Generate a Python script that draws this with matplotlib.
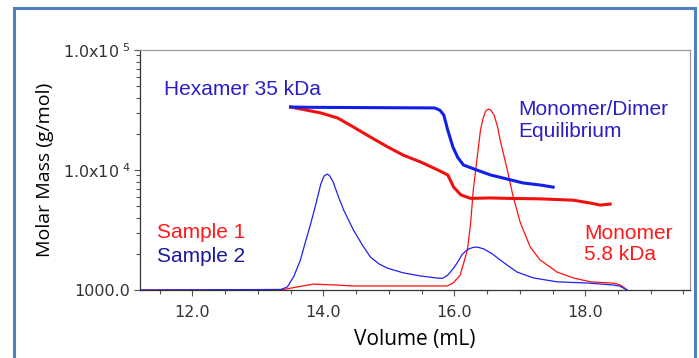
import numpy as np
import matplotlib.pyplot as plt
from matplotlib.patches import Rectangle
from matplotlib.ticker import MultipleLocator, FixedLocator, FixedFormatter, LogLocator, NullFormatter

# molar mass traces (thick)
vol_mm2 = [13.50, 13.75, 15.70, 15.78, 15.84, 15.90, 15.98, 16.05, 16.14, 16.30, 16.55, 16.81, 17.05, 17.31, 17.51]
mm2 = [33500, 33300, 32900, 31500, 28700, 21500, 15500, 12800, 11000, 10200, 9100, 8400, 7800, 7500, 7200]

vol_mm1 = [13.50, 13.96, 14.22, 14.46, 14.72, 14.98, 15.22, 15.48, 15.75, 15.90, 15.95, 15.99, 16.10,
           16.25, 16.55, 16.82, 17.31, 17.82, 18.08, 18.23, 18.38]
mm1 = [33500, 29900, 27100, 22800, 18800, 15600, 13300, 11700, 10000, 9100, 8000, 7200, 6200,
       5800, 5850, 5800, 5750, 5600, 5300, 5100, 5200]

# concentration traces (thin), plotted on the same scale
vol_c2 = [11.2, 13.35, 13.45, 13.55, 13.65, 13.73, 13.81, 13.89, 13.96, 14.01, 14.06, 14.10, 14.15,
          14.23, 14.31, 14.46, 14.60, 14.72, 14.85, 14.98, 15.22,
          15.48, 15.72, 15.82, 15.90, 15.98, 16.05, 16.12, 16.20, 16.28, 16.35, 16.45, 16.58, 16.70,
          16.83, 16.96, 17.21, 17.57, 18.08, 18.43, 18.52, 18.58, 18.64]
c2 = [1000, 1010, 1060, 1300, 1780, 2550, 3620, 5300, 7600, 8900, 9260, 8900, 7940,
      6000, 4640, 3160, 2350, 1880, 1650, 1520, 1390,
      1310, 1260, 1250, 1330, 1500, 1700, 1980, 2170, 2260, 2280, 2200, 2000, 1780,
      1580, 1410, 1260, 1170, 1140, 1100, 1080, 1040, 1000]

vol_c1 = [11.2, 13.35, 13.60, 13.85, 14.21, 14.46, 15.22, 15.89, 15.98, 16.09, 16.20, 16.25, 16.29, 16.35,
          16.40, 16.44, 16.48, 16.52, 16.56, 16.61, 16.66, 16.70, 16.76, 16.81, 16.90, 17.01, 17.16,
          17.31, 17.57, 17.82, 18.08, 18.43, 18.52, 18.58, 18.64]
c1 = [1000, 1000, 1060, 1120, 1100, 1080, 1080, 1080, 1140, 1330, 2150, 3620, 6810, 12800,
      21500, 27000, 31000, 32200, 31500, 28500, 23000, 17800, 13000, 10000, 5960, 3620, 2280,
      1780, 1410, 1260, 1170, 1140, 1110, 1060, 1000]

x_ticks = [12, 14, 16, 18]
x_labels = ['12.0', '14.0', '16.0', '18.0']
y_ticks = [1000, 10000, 100000]
y_labels = ['1000.0', r'1.0x10$^{\ 4}$', r'1.0x10$^{\ 5}$']

fig = plt.figure(figsize=(6.99, 3.58), dpi=100)
ax = fig.add_axes([140/699, 1-290/358, 550/699, 240/358])

red = '#ff1010'
blue = '#2020f0'

ax.plot(vol_c1, c1, color=red, lw=0.9, zorder=3)
ax.plot(vol_c2, c2, color=blue, lw=0.9, zorder=3)
ax.plot(vol_mm1, mm1, color='#f01010', lw=2.2, zorder=4)
ax.plot(vol_mm2, mm2, color='#1020e8', lw=2.2, zorder=4)

ax.set_yscale('log')
ax.set_xlim(11.2, 19.6)
ax.set_ylim(1000, 100000)

ax.xaxis.set_major_locator(FixedLocator(x_ticks))
ax.xaxis.set_major_formatter(FixedFormatter(x_labels))
ax.xaxis.set_minor_locator(MultipleLocator(0.5))
ax.yaxis.set_major_locator(FixedLocator(y_ticks))
ax.yaxis.set_major_formatter(FixedFormatter(y_labels))
ax.yaxis.set_minor_locator(LogLocator(base=10, subs=np.arange(2, 10)))
ax.yaxis.set_minor_formatter(NullFormatter())

ax.tick_params(which='both', direction='out', color='#555555', width=0.8)
ax.tick_params(which='major', length=4)
ax.tick_params(which='minor', length=3)
ax.tick_params(axis='x', which='major', pad=7, labelsize=11.5, labelcolor='#333333')
ax.tick_params(axis='y', which='major', pad=3, labelsize=11.5, labelcolor='#333333')
for s in ax.spines.values():
    s.set_color('#999999')
    s.set_linewidth(0.9)
ax.spines['left'].set_color('#333333')
ax.spines['bottom'].set_color('#333333')

ax.set_xlabel('Volume (mL)', fontsize=15, family='Open Sans', labelpad=6)
ax.set_ylabel('Molar Mass (g/mol)', fontsize=14, family='Open Sans', labelpad=6)

tf = dict(family='Liberation Sans', fontsize=15, va='center', ha='left')
ax.text(11.565, 47300, 'Hexamer 35 kDa', color='#2a1fc4', **tf)
ax.text(16.97, 25900, 'Monomer/Dimer\nEquilibrium', color='#2a1fc4', linespacing=1.15, **tf)
ax.text(11.46, 3043, 'Sample 1', color='#ff1a1a', **tf)
ax.text(11.46, 1884, 'Sample 2', color='#1a1a9a', **tf)
ax.text(17.98, 2418, 'Monomer\n5.8 kDa', color='#ff1a1a', linespacing=1.15, **tf)

# outer slide frame
fig.patches.append(Rectangle((14/699, -0.1), 681/699, 1.1 - 8/358, transform=fig.transFigure,
                             fill=False, edgecolor='#4f7fbf', lw=2.2))

fig.savefig('out.png', dpi=100)
